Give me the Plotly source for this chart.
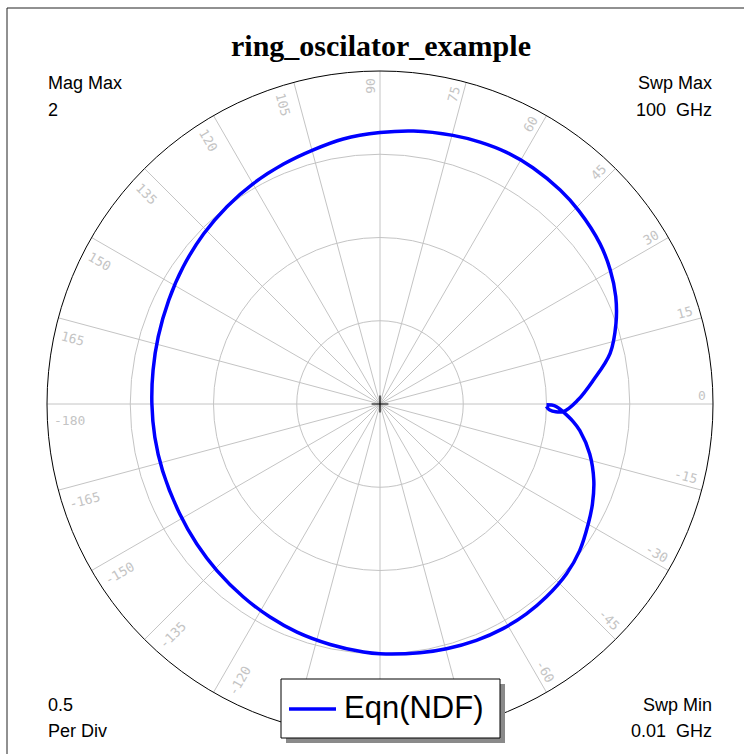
import math
import plotly.graph_objects as go

# ---------------------------------------------------------------- data
TITLE = "ring_oscilator_example"
TRACE_NAME = "Eqn(NDF)"

# Normalized determinant function, swept 0.01 GHz -> 100 GHz
NDF_MAG = [1.00, 1.05, 1.08, 1.10, 1.165, 1.211, 1.295, 1.364, 1.41, 1.443,
           1.488, 1.515, 1.530, 1.537, 1.538, 1.533, 1.523, 1.513, 1.50, 1.493,
           1.475, 1.458, 1.44, 1.42, 1.40, 1.385, 1.372, 1.366, 1.367, 1.37,
           1.378, 1.392, 1.414, 1.441, 1.472, 1.50, 1.527, 1.553, 1.578, 1.607,
           1.63, 1.652, 1.672, 1.684, 1.692, 1.690, 1.680, 1.665, 1.635, 1.600,
           1.556, 1.497, 1.415, 1.290, 1.19, 1.10, 1.02, 1.00]
NDF_PHASE_DEG = [-0.3, -0.6, -1.6, -2.4, -5.2, -7.6, -13.4, -19.7, -25.2, -29.9,
                 -36.3, -42.3, -49.2, -55.1, -61.3, -67.8, -74.8, -80.9, -90.0, -93.8,
                 -101.7, -110.0, -117.3, -125.3, -134.4, -142.6, -151.2, -162.9, -171.6, 180.0,
                 171.5, 163.1, 153.8, 145.1, 136.0, 127.8, 119.9, 111.9, 104.7, 97.9,
                 90.0, 83.0, 74.8, 69.1, 63.3, 57.1, 49.9, 44.1, 36.1, 30.2,
                 24.5, 18.8, 12.4, 6.4, 1.2, -2.4, -2.0, -0.8]

MAG_MAX = 2.0
PER_DIV = 0.5
RADIAL_GRID = [0.5, 1.0, 1.5]
ANGLE_TICKS = [0, 15, 30, 45, 60, 75, 90, 105, 120, 135, 150, 165,
               -180, -165, -150, -135, -120, -105, -90, -75, -60, -45, -30, -15]

CORNER_TL = ["Mag Max", "2"]
CORNER_TR = ["Swp Max", "100  GHz"]
CORNER_BL = ["0.5", "Per Div"]
CORNER_BR = ["Swp Min", "0.01  GHz"]

# ---------------------------------------------------------------- layout geometry
W, H = 744, 754
CX, CY, R = 380, 404, 333           # chart centre and outer radius (px)
GRID = "#c4c4c4"
LABEL_GREY = "#c4c4c4"
SANS = "Liberation Sans"


def px(x):
    return x / W


def py(y):
    return 1 - y / H


fig = go.Figure()

fig.add_trace(go.Scatterpolar(
    r=NDF_MAG, theta=NDF_PHASE_DEG, mode="lines", name=TRACE_NAME,
    line=dict(color="#0000ff", width=3.5, shape="spline", smoothing=1.0),
    showlegend=False, hoverinfo="skip",
))
# small cross at the origin
fig.add_trace(go.Scatterpolar(
    r=[0], theta=[0], mode="markers", showlegend=False, hoverinfo="skip",
    marker=dict(symbol="cross-thin", size=12, line=dict(color="black", width=1.2)),
))

fig.update_layout(
    width=W, height=H,
    margin=dict(l=0, r=0, t=0, b=0),
    paper_bgcolor="white",
    showlegend=False,
    polar=dict(
        domain=dict(x=[px(CX - R), px(CX + R)], y=[py(CY + R), py(CY - R)]),
        bgcolor="white",
        radialaxis=dict(range=[0, MAG_MAX], tickvals=RADIAL_GRID, showticklabels=False,
                        ticks="", showline=False, gridcolor=GRID, gridwidth=1),
        angularaxis=dict(dtick=15, direction="counterclockwise", rotation=0,
                         showticklabels=False, ticks="", showline=True,
                         linecolor="black", linewidth=1, gridcolor=GRID, gridwidth=1),
    ),
)

# legend box geometry (px)
LEG_X0, LEG_Y0, LEG_X1, LEG_Y1 = 281, 679, 500, 738
SHADOW = 5

annotations = []

# angle labels, set just inside the outer circle along each spoke
CHAR_W = 7.8
R_END = 326
for th in ANGLE_TICKS:
    label = str(th)
    rc = R_END - len(label) * CHAR_W / 2
    right_half = -90 < th <= 90
    off = 9 if right_half else 16.5
    a = math.radians(th)
    x = CX + rc * math.cos(a) + off * math.cos(a + math.pi / 2)
    y = CY - (rc * math.sin(a) + off * math.sin(a + math.pi / 2))
    if LEG_X0 - 6 < x < LEG_X1 + SHADOW + 6 and LEG_Y0 - 6 < y < LEG_Y1 + SHADOW + 6:
        continue  # hidden behind the legend
    if right_half:
        ang = -th
    else:
        ang = -(th + 180)
        ang = (ang + 180) % 360 - 180
    annotations.append(dict(
        x=px(x), y=py(y), xref="paper", yref="paper", text=label, showarrow=False,
        textangle=ang, xanchor="center", yanchor="middle",
        font=dict(family="DejaVu Sans Mono", size=13, color=LABEL_GREY),
    ))

# title
annotations.append(dict(
    x=px(380.5), y=py(45), xref="paper", yref="paper", text="<b>%s</b>" % TITLE,
    showarrow=False, xanchor="center", yanchor="middle",
    font=dict(family="Liberation Serif", size=30, color="black"),
))

# corner captions
def corner(lines, x, ys, anchor):
    for txt, yy in zip(lines, ys):
        annotations.append(dict(
            x=px(x), y=py(yy), xref="paper", yref="paper", text=txt, showarrow=False,
            xanchor=anchor, yanchor="middle",
            font=dict(family=SANS, size=18, color="black"),
        ))


corner(CORNER_TL, 46, [83, 110], "left")
corner(CORNER_TR, 714, [83, 110], "right")
corner(CORNER_BL, 46, [705, 731], "left")
corner(CORNER_BR, 714, [705, 731], "right")

# legend text
annotations.append(dict(
    x=px(342), y=py(707), xref="paper", yref="paper", text=TRACE_NAME, showarrow=False,
    xanchor="left", yanchor="middle",
    font=dict(family=SANS, size=31, color="black"),
))

shapes = [
    # outer frame
    dict(type="rect", xref="paper", yref="paper", x0=px(7), y0=-0.2, x1=1.2, y1=py(8),
         line=dict(color="#222222", width=1), fillcolor="rgba(0,0,0,0)", layer="below"),
    # legend shadow, box and line sample
    dict(type="rect", xref="paper", yref="paper",
         x0=px(LEG_X0 + SHADOW), y0=py(LEG_Y1 + SHADOW), x1=px(LEG_X1 + SHADOW), y1=py(LEG_Y0 + SHADOW),
         line=dict(width=0), fillcolor="#8a8a8a", layer="above"),
    dict(type="rect", xref="paper", yref="paper",
         x0=px(LEG_X0), y0=py(LEG_Y1), x1=px(LEG_X1), y1=py(LEG_Y0),
         line=dict(color="black", width=1), fillcolor="white", layer="above"),
    dict(type="line", xref="paper", yref="paper",
         x0=px(289), y0=py(709), x1=px(336), y1=py(709),
         line=dict(color="#0000ff", width=3.5), layer="above"),
]

fig.update_layout(annotations=annotations, shapes=shapes)
fig.write_html("out.html")
